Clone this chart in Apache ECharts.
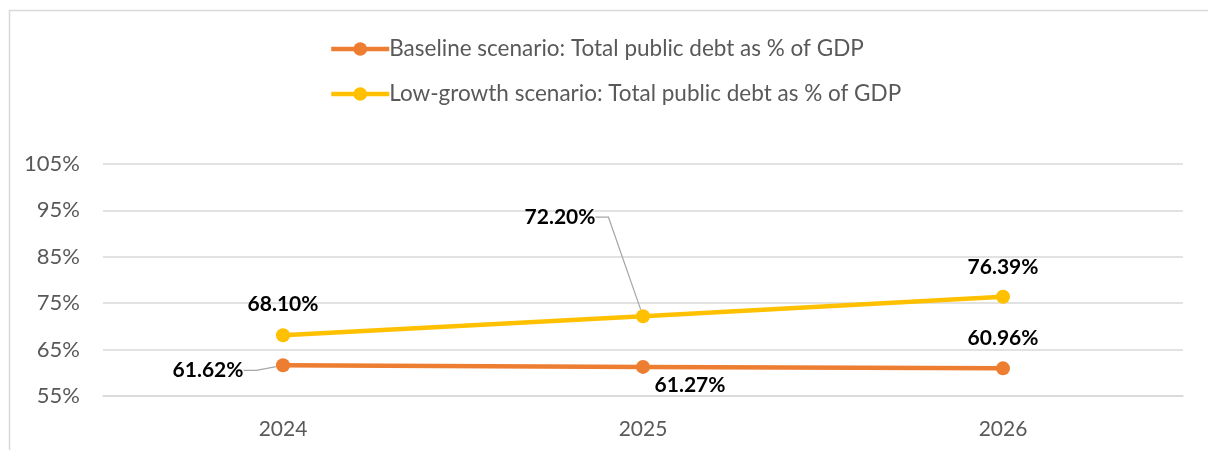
<!DOCTYPE html>
<html>
<head>
<meta charset="utf-8">
<style>
  html, body { margin: 0; padding: 0; background: #fff; }
  #chart { width: 1208px; height: 450px; }
</style>
<script src="https://cdn.jsdelivr.net/npm/echarts@6/dist/echarts.min.js"></script>
</head>
<body>
<div id="chart"></div>
<script>
// Public debt projections, % of GDP
const years = ['2024', '2025', '2026'];
const baselineName = 'Baseline scenario: Total public debt as % of GDP';
const lowGrowthName = 'Low-growth scenario: Total public debt as % of GDP';
const baseline = [61.62, 61.27, 60.96];
const lowGrowth = [68.10, 72.20, 76.39];
const yTicks = { min: 55, max: 105, step: 10 };

const FONT = 'Lato, "Open Sans", sans-serif';

// label placement per point: offset of the label centre (px) and whether a leader line is drawn
const baselineLabels = [
  { dx: -75, dy: 5, leader: true },
  { dx: 47, dy: 18, leader: false },
  { dx: 0, dy: -30, leader: false }
];
const lowLabels = [
  { dx: 0, dy: -31, leader: false },
  { dx: -83, dy: -99, leader: true },
  { dx: 0, dy: -30, leader: false }
];

function layoutFrom(place) {
  return function (params) {
    const s = place[params.dataIndex];
    const r = params.rect;
    const lr = params.labelRect;
    const cx = r.x + r.width / 2 + s.dx;
    const cy = r.y + r.height / 2 + s.dy;
    return { x: cx - lr.width / 2, y: cy - lr.height / 2, align: 'left', verticalAlign: 'top' };
  };
}

function seriesData(values, place) {
  return values.map((v, i) => ({ value: v, labelLine: { show: place[i].leader } }));
}

const labelStyle = {
  show: true,
  position: 'inside',
  formatter: (p) => p.value.toFixed(2) + '%',
  fontFamily: FONT,
  fontWeight: 'bold',
  fontSize: 21,
  color: '#000'
};

const leaderLine = {
  show: true,
  length2: 13,
  smooth: false,
  lineStyle: { color: '#A6A6A6', width: 1.2 }
};

const chart = echarts.init(document.getElementById('chart'), null, { renderer: 'canvas' });

chart.setOption({
  animation: false,
  backgroundColor: '#fff',
  graphic: [{
    type: 'rect',
    shape: { x: 9.5, y: 10.5, width: 1300, height: 600 },
    style: { fill: null, stroke: '#D9D9D9', lineWidth: 1.5 },
    silent: true,
    z: -1
  }],
  legend: {
    orient: 'vertical',
    left: 324,
    top: 32,
    itemWidth: 58,
    itemHeight: 17,
    itemGap: 21,
    lineStyle: { width: 4.5 },
    textStyle: { fontFamily: FONT, fontSize: 22.5, color: '#595959', lineHeight: 24, padding: [0, 0, 0, -5] },
    data: [baselineName, lowGrowthName]
  },
  grid: { left: 103, right: 25, top: 164, bottom: 54 },
  xAxis: {
    type: 'category',
    data: years,
    boundaryGap: true,
    axisLine: { show: true, lineStyle: { color: '#D9D9D9', width: 1.5 } },
    axisTick: { show: false },
    axisLabel: { fontFamily: FONT, fontSize: 21, color: '#595959', margin: 23 }
  },
  yAxis: {
    type: 'value',
    min: yTicks.min,
    max: yTicks.max,
    interval: yTicks.step,
    axisLine: { show: false },
    axisTick: { show: false },
    splitLine: { lineStyle: { color: '#D9D9D9', width: 1.5 } },
    axisLabel: { fontFamily: FONT, fontSize: 22, color: '#595959', margin: 23, formatter: '{value}%' }
  },
  series: [
    {
      name: baselineName,
      type: 'line',
      data: seriesData(baseline, baselineLabels),
      color: '#ED7D31',
      lineStyle: { width: 4.5, color: '#ED7D31' },
      symbol: 'circle',
      symbolSize: 14,
      itemStyle: { color: '#ED7D31' },
      label: labelStyle,
      labelLayout: layoutFrom(baselineLabels),
      labelLine: leaderLine,
      z: 3
    },
    {
      name: lowGrowthName,
      type: 'line',
      data: seriesData(lowGrowth, lowLabels),
      color: '#FFC000',
      lineStyle: { width: 4.5, color: '#FFC000' },
      symbol: 'circle',
      symbolSize: 14,
      itemStyle: { color: '#FFC000' },
      label: labelStyle,
      labelLayout: layoutFrom(lowLabels),
      labelLine: leaderLine,
      z: 3
    }
  ]
});
</script>
</body>
</html>
